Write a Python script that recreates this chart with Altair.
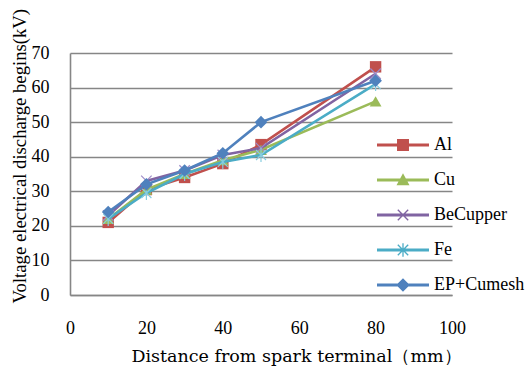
import altair as alt
import pandas as pd

# ---- data ----
distance = [10, 20, 30, 40, 50, 80]
series_names = ["Al", "Cu", "BeCupper", "Fe", "EP+Cumesh"]
al = [21, 30.5, 34, 38, 43.5, 66]
cu = [22, 30.5, 35, 39, 42, 56]
becupper = [23, 33, 36, 40.5, 42.5, 64]
fe = [22, 29.5, 35, 38.5, 40.5, 61]
ep = [24, 32, 36, 41, 50, 62]
values = [al, cu, becupper, fe, ep]

y_ticks = [0, 10, 20, 30, 40, 50, 60, 70]
x_ticks = [0, 20, 40, 60, 80, 100]

colors = ["#C0504D", "#9BBB59", "#8064A2", "#4BACC6", "#4F81BD"]

rows = []
for name, vals in zip(series_names, values):
    for d, v in zip(distance, vals):
        rows.append({"distance": d, "voltage": v, "series": name})
df = pd.DataFrame(rows)

SERIF = "Times New Roman, Liberation Serif, serif"

x_enc = alt.X("distance:Q",
              scale=alt.Scale(domain=[0, 100], nice=False, zero=False),
              axis=alt.Axis(values=x_ticks, title="Distance from spark terminal（mm）",
                            grid=False, ticks=False, labelPadding=24, labelFlush=False,
                            labelFont=SERIF, labelFontSize=18, labelColor="#000",
                            titleFont="DejaVu Serif", titleFontSize=17.5, titleFontWeight="normal",
                            titleColor="#000", titleX=226, titleY=61, titleBaseline="middle",
                            titleAlign="center", titleAnchor="start",
                            domainColor="#868686", domainWidth=1.5))
y_enc = alt.Y("voltage:Q",
              scale=alt.Scale(domain=[0, 70], nice=False, zero=True),
              axis=alt.Axis(values=y_ticks, title="Voltage electrical discharge begins(kV)",
                            grid=True, gridColor="#868686", gridWidth=1.6,
                            ticks=False, labelPadding=21, labelFlush=False,
                            labelFont=SERIF, labelFontSize=18, labelColor="#000",
                            titleFont=SERIF, titleFontSize=18.7, titleFontWeight="normal",
                            titleColor="#000", titleX=-51, titleY=250, titleAngle=-90,
                            titleBaseline="middle", titleAlign="left", titleAnchor="start",
                            domainColor="#868686", domainWidth=1.6))

marker_specs = {
    "Al": dict(shape="square", size=130, filled=True, fill="#C0504D"),
    "Cu": dict(shape="triangle-up", size=140, filled=True, fill="#9BBB59"),
    "BeCupper": dict(shape="M-1,-1L1,1M-1,1L1,-1", size=110, filled=False, stroke="#9F8CC8"),
    "Fe": dict(shape="M-1,-1L1,1M-1,1L1,-1M0,-1.4L0,1.4", size=100, filled=False, stroke="#86CDE0"),
    "EP+Cumesh": dict(shape="diamond", size=160, filled=True, fill="#4F81BD"),
}

layers = []
for name, col in zip(series_names, colors):
    sub = alt.Chart(df).transform_filter(alt.datum.series == name)
    line = sub.mark_line(color=col, strokeWidth=2.6).encode(x=x_enc, y=y_enc)
    spec = marker_specs[name]
    if spec["filled"]:
        pt = sub.mark_point(shape=spec["shape"], size=spec["size"], filled=True,
                            fill=spec["fill"], opacity=1, strokeWidth=0).encode(x=x_enc, y=y_enc)
    else:
        pt = sub.mark_point(shape=spec["shape"], size=spec["size"], filled=False,
                            stroke=spec["stroke"], opacity=1, strokeWidth=1.2).encode(x=x_enc, y=y_enc)
    layers += [line, pt]

# legend symbols: line segment + marker, as filled paths
L = "M-1,-0.055L1,-0.055L1,0.055L-1,0.055Z"
XM = ("M-0.182,-0.218L0.218,0.182L0.182,0.218L-0.218,-0.182Z"
      "M-0.218,0.182L0.182,-0.218L0.218,-0.182L-0.182,0.218Z")
legend_paths = [
    L + "M-0.23,-0.23L0.23,-0.23L0.23,0.23L-0.23,0.23Z",
    L + "M0,-0.26L0.25,0.2L-0.25,0.2Z",
    L + XM,
    L + XM + "M-0.025,-0.26L0.025,-0.26L0.025,0.26L-0.025,0.26Z",
    L + "M0,-0.26L0.26,0L0,0.26L-0.26,0Z",
]

legend_layer = alt.Chart(df).transform_filter("false").mark_point(filled=True, opacity=1).encode(
    x=x_enc, y=y_enc,
    color=alt.Color("series:N", scale=alt.Scale(domain=series_names, range=colors),
                    legend=alt.Legend(title=None, orient="none", legendX=307, legendY=66,
                                      labelFont=SERIF, labelFontSize=18, labelColor="#000",
                                      symbolSize=2704, symbolStrokeWidth=0, labelOffset=5,
                                      rowPadding=0, symbolOpacity=1)),
    shape=alt.Shape("series:N", scale=alt.Scale(domain=series_names, range=legend_paths),
                    legend=None),
)

chart = alt.layer(*layers, legend_layer).properties(
    width=382, height=242,
    autosize=alt.AutoSizeParams(type="none"),
    padding={"left": 70, "top": 53, "right": 78, "bottom": 72},
    background="white",
).configure_view(stroke=None)

chart.save("out.html", embed_options={"renderer": "svg", "actions": False})
